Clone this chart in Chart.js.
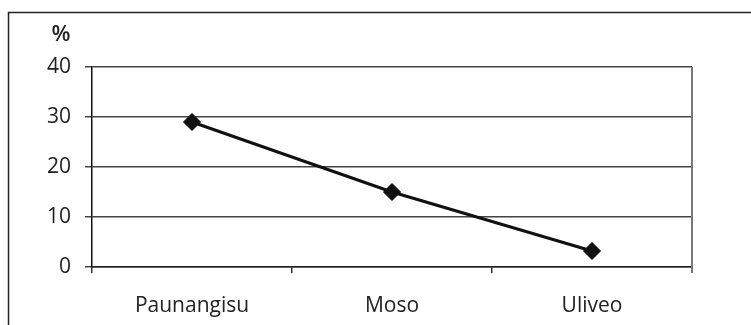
<!DOCTYPE html>
<html>
<head>
<meta charset="utf-8">
<script src="https://cdn.jsdelivr.net/npm/chart.js@4"></script>
<style>
  html, body { margin: 0; padding: 0; background: #fff; }
  #wrap { width: 751px; height: 325px; }
</style>
</head>
<body>
<div id="wrap"><canvas id="chart" width="751" height="325"></canvas></div>
<script>
// data
const categories = ['Paunangisu', 'Moso', 'Uliveo'];
const values = [29, 15, 3.2];
const yTicks = [0, 10, 20, 30, 40];
const unitLabel = '%';

const fontFamily = '"Open Sans", sans-serif';

// outer frame, right border of plot and the % label
const framePlugin = {
    id: 'frame',
    beforeDraw(chart) {
        const ctx = chart.ctx;
        ctx.save();
        ctx.fillStyle = '#fff';
        ctx.fillRect(0, 0, chart.width, chart.height);
        ctx.strokeStyle = '#222';
        ctx.lineWidth = 1.5;
        ctx.beginPath();
        ctx.moveTo(8.5, chart.height + 2);
        ctx.lineTo(8.5, 12.5);
        ctx.lineTo(chart.width + 2, 12.5);
        ctx.stroke();
        ctx.restore();
    },
    beforeDatasetsDraw(chart) {
        const ctx = chart.ctx;
        const a = chart.chartArea;
        ctx.save();
        ctx.strokeStyle = '#777';
        ctx.lineWidth = 2;
        ctx.beginPath();
        ctx.moveTo(a.right, a.top);
        ctx.lineTo(a.right, a.bottom + 6);
        ctx.stroke();
        ctx.fillStyle = '#222';
        ctx.font = '600 22px ' + fontFamily;
        ctx.textAlign = 'center';
        ctx.textBaseline = 'middle';
        ctx.fillText(unitLabel, 61, 35);
        ctx.restore();
    }
};

new Chart(document.getElementById('chart').getContext('2d'), {
    type: 'line',
    data: {
        labels: categories,
        datasets: [{
            data: values,
            borderColor: '#111',
            backgroundColor: '#111',
            borderWidth: 3,
            pointStyle: 'rectRot',
            pointRadius: 7,
            pointHoverRadius: 7,
            tension: 0
        }]
    },
    options: {
        responsive: false,
        animation: false,
        layout: { padding: { left: 0, top: 67, right: 59, bottom: 0 } },
        plugins: {
            legend: { display: false },
            tooltip: { enabled: false }
        },
        scales: {
            x: {
                offset: true,
                grid: {
                    offset: true,
                    drawOnChartArea: false,
                    drawTicks: true,
                    tickLength: 6,
                    color: '#333',
                    lineWidth: 1.5
                },
                border: { color: '#222', width: 1.5 },
                ticks: {
                    color: '#222',
                    padding: 20,
                    font: { family: fontFamily, size: 21 }
                },
                afterFit(scale) { scale.height = 58; }
            },
            y: {
                min: 0,
                max: 40,
                afterBuildTicks(scale) {
                    scale.ticks = yTicks.map(v => ({ value: v }));
                },
                grid: {
                    color: '#444',
                    lineWidth: 1.5,
                    tickLength: 7
                },
                border: { color: '#111', width: 1.5 },
                ticks: {
                    color: '#222',
                    padding: 14,
                    font: { family: fontFamily, size: 21 }
                },
                afterFit(scale) { scale.width = 92; }
            }
        }
    },
    plugins: [framePlugin]
});
</script>
</body>
</html>
